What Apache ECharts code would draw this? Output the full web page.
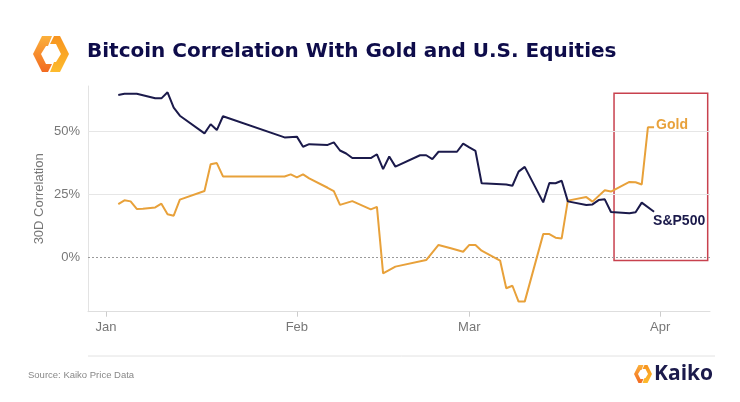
<!DOCTYPE html>
<html><head><meta charset="utf-8">
<script src="https://cdn.jsdelivr.net/npm/echarts@6/dist/echarts.min.js"></script>
<style>html,body{margin:0;padding:0;background:#fff}#c{width:740px;height:402px}</style>
</head><body><div id="c"></div>
<script>
const tickDates = ['2022-01-01','2022-02-01','2022-03-01','2022-04-01'];
const tickLabels = ['Jan','Feb','Mar','Apr'];
const yTicks = [0, 25, 50];

const goldDates = ['2022-01-03','2022-01-04','2022-01-05','2022-01-06','2022-01-07','2022-01-09','2022-01-10','2022-01-11','2022-01-12','2022-01-13',
  '2022-01-17','2022-01-18','2022-01-19','2022-01-20','2022-01-30','2022-01-31','2022-02-01','2022-02-02','2022-02-03','2022-02-06',
  '2022-02-07','2022-02-08','2022-02-10','2022-02-13','2022-02-14','2022-02-15','2022-02-17','2022-02-22','2022-02-24','2022-02-26',
  '2022-02-28','2022-03-01','2022-03-02','2022-03-03','2022-03-06','2022-03-07','2022-03-08','2022-03-09','2022-03-10','2022-03-13',
  '2022-03-14','2022-03-15','2022-03-16','2022-03-17','2022-03-20','2022-03-21','2022-03-23','2022-03-24','2022-03-27','2022-03-28',
  '2022-03-29','2022-03-30','2022-03-31'];
const goldValues = [21.1,22.6,22.2,19.2,19.3,19.8,21.3,17.1,16.5,22.9,
  26.3,36.9,37.4,32.1,32.1,32.9,31.7,32.9,31.3,27.6,
  26.3,20.8,22.3,19.0,20.0,-6.4,-3.7,-1.1,4.9,3.6,
  2.2,4.9,4.9,2.6,-1.3,-12.3,-11.3,-17.6,-17.6,9.2,
  9.2,7.8,7.5,22.5,23.9,22.1,26.6,26.1,29.9,29.8,
  28.9,51.6,51.6];

const spDates = ['2022-01-03','2022-01-04','2022-01-06','2022-01-09','2022-01-10','2022-01-11','2022-01-12','2022-01-13','2022-01-17','2022-01-18',
  '2022-01-19','2022-01-20','2022-01-30','2022-02-01','2022-02-02','2022-02-03','2022-02-06','2022-02-07','2022-02-08','2022-02-09',
  '2022-02-10','2022-02-13','2022-02-14','2022-02-15','2022-02-16','2022-02-17','2022-02-21','2022-02-22','2022-02-23','2022-02-24',
  '2022-02-27','2022-02-28','2022-03-01','2022-03-02','2022-03-03','2022-03-07','2022-03-08','2022-03-09','2022-03-10','2022-03-13',
  '2022-03-14','2022-03-15','2022-03-16','2022-03-17','2022-03-20','2022-03-21','2022-03-22','2022-03-23','2022-03-24','2022-03-27',
  '2022-03-28','2022-03-29','2022-03-31'];
const spValues = [64.4,64.9,64.9,63.1,63.1,65.5,59.4,56.2,49.2,52.8,
  50.5,56.0,47.6,47.9,43.9,44.9,44.6,45.6,42.4,41.2,
  39.4,39.4,40.9,35.0,40.0,36.0,40.5,40.5,39.0,41.9,
  41.9,45.1,43.6,42.2,29.4,28.9,28.4,34.0,35.9,21.8,
  29.5,29.4,30.4,22.2,20.8,21.0,22.7,23.0,18.0,17.5,
  17.9,21.7,18.1];

const highlightX = ['2022-03-24 12:00', '2022-04-08 17:00'];
const highlightY = [-1.3, 65.1];
const xRange = ['2021-12-29 02:00', '2022-04-09 02:00'];

// convert a date string to days since 1 Jan 2022 (UTC based, no DST effects)
function dayNum(s) {
  const parts = s.split(' ');
  const [y, m, d] = parts[0].split('-').map(Number);
  let h = 0, mi = 0;
  if (parts[1]) { [h, mi] = parts[1].split(':').map(Number); }
  return (Date.UTC(y, m - 1, d, h, mi) - Date.UTC(2022, 0, 1)) / 864e5;
}
const tickDays = tickDates.map(dayNum);
const NAVY = '#1b1a4b', GOLD = '#e8a13a', RED = '#c8414e';
const FONT = 'Liberation Sans, Arial, sans-serif';

const chart = echarts.init(document.getElementById('c'), null, {renderer: 'canvas'});

const G = echarts.graphic;
const leftPts = [[1,-18],[-9,-18],[-18,0],[-9,18],[-3,18],[1,10],[-5,10],[-10,0],[-5,-8],[-3,-8]];
const rightPts = leftPts.map(p => [-p[0], -p[1]]);
function logo(x, y, s) {
  return {
    type: 'group', x: x, y: y, scaleX: s, scaleY: s,
    children: [
      {type: 'polygon', shape: {points: leftPts}, style: {fill: new G.LinearGradient(0, 0, 0, 1, [{offset: 0, color: '#fbb03b'}, {offset: 1, color: '#f26a21'}])}},
      {type: 'polygon', shape: {points: rightPts}, style: {fill: new G.LinearGradient(0, 0, 0, 1, [{offset: 0, color: '#f7931e'}, {offset: 1, color: '#fdbb2d'}])}}
    ]
  };
}

chart.setOption({
  animation: false,
  backgroundColor: '#ffffff',
  title: {
    text: 'Bitcoin Correlation With Gold and U.S. Equities',
    left: 87, top: 40, padding: 0,
    textStyle: {fontFamily: 'DejaVu Sans, sans-serif', fontWeight: 'bold', fontSize: 20, color: '#0e0c4a', lineHeight: 24}
  },
  grid: {left: 88, right: 30, top: 86, bottom: 90.3},
  xAxis: {
    type: 'value',
    min: dayNum(xRange[0]), max: dayNum(xRange[1]),
    axisLine: {show: true, onZero: false, lineStyle: {color: '#dedede', width: 1}},
    axisTick: {show: true, customValues: tickDays, length: 5, lineStyle: {color: '#cccccc'}},
    axisLabel: {
      customValues: tickDays,
      formatter: function (v) { const i = tickDays.indexOf(v); return i >= 0 ? tickLabels[i] : ''; },
      color: '#777777', fontSize: 13, margin: 9, fontFamily: FONT
    },
    splitLine: {show: false}
  },
  yAxis: {
    type: 'value', min: -21.6, max: 68,
    name: '30D Correlation', nameLocation: 'middle', nameGap: 42, nameRotate: 90, nameMoveOverlap: false,
    nameTextStyle: {color: '#777777', fontSize: 13, fontFamily: FONT},
    axisLine: {show: true, onZero: false, lineStyle: {color: '#e3e3e3'}},
    axisTick: {show: false},
    splitLine: {show: false},
    axisLabel: {customValues: yTicks, formatter: '{value}%', color: '#777777', fontSize: 13, margin: 8, fontFamily: FONT}
  },
  series: [
    {
      type: 'line', data: [], z: 1, silent: true,
      markLine: {
        z: 1, silent: true, symbol: ['none', 'none'], label: {show: false},
        data: [
          {yAxis: yTicks[2], lineStyle: {color: '#e6e6e6', width: 1, type: 'solid'}},
          {yAxis: yTicks[1], lineStyle: {color: '#e6e6e6', width: 1, type: 'solid'}},
          {yAxis: yTicks[0], lineStyle: {color: '#9a9a9a', width: 1, type: [2, 2]}}
        ]
      }
    },
    {
      name: 'Gold', type: 'line', z: 3, symbol: 'none',
      data: goldDates.map((d, i) => [dayNum(d), goldValues[i]]),
      lineStyle: {color: GOLD, width: 2}, itemStyle: {color: GOLD},
      endLabel: {show: true, formatter: 'Gold', color: GOLD, fontWeight: 'bold', fontSize: 14, distance: 2, offset: [0, -2], fontFamily: FONT},
      markArea: {
        silent: true,
        itemStyle: {color: 'rgba(0,0,0,0)', borderColor: RED, borderWidth: 1.5},
        data: [[{xAxis: dayNum(highlightX[0]), yAxis: highlightY[0]}, {xAxis: dayNum(highlightX[1]), yAxis: highlightY[1]}]]
      }
    },
    {
      name: 'S&P500', type: 'line', z: 4, symbol: 'none',
      data: spDates.map((d, i) => [dayNum(d), spValues[i]]),
      lineStyle: {color: NAVY, width: 2}, itemStyle: {color: NAVY},
      endLabel: {show: true, formatter: 'S&P500', color: NAVY, fontWeight: 'bold', fontSize: 14, distance: 2, offset: [-3, 9.5], fontFamily: FONT}
    }
  ],
  graphic: [
    logo(51, 54, 1),
    {type: 'line', shape: {x1: 88, y1: 356, x2: 715, y2: 356}, style: {stroke: '#e2e2e2', lineWidth: 1}},
    {type: 'text', x: 28, y: 375, style: {text: 'Source: Kaiko Price Data', fill: '#888888', fontSize: 9.5, fontFamily: FONT, verticalAlign: 'middle'}},
    logo(643, 374, 0.5),
    {type: 'text', x: 654, y: 374, style: {text: 'Kaiko', fill: '#1b1a4b', fontSize: 21, fontWeight: 'bold', fontFamily: 'Open Sans, Liberation Sans, sans-serif', verticalAlign: 'middle'}}
  ]
});
</script>
</body></html>
